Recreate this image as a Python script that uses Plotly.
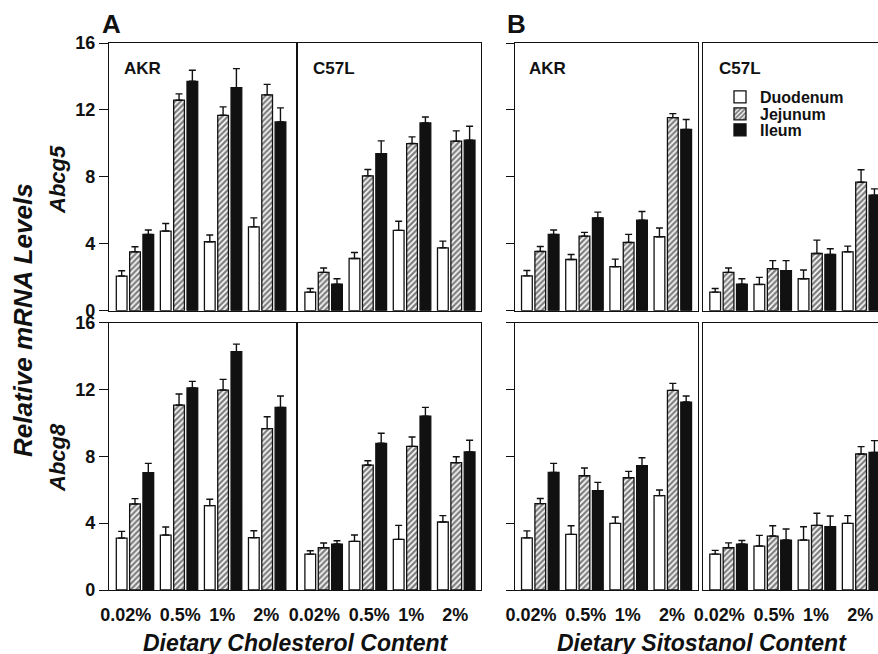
import plotly.graph_objects as go

# ---------------- data ----------------
DIETS = ["0.02%", "0.5%", "1%", "2%"]
SEGMENTS = ["Duodenum", "Jejunum", "Ileum"]
STRAINS = ["AKR", "C57L"]
GENES = ["Abcg5", "Abcg8"]

# Abcg5, cholesterol feeding
chol_akr_g5 = [2.07, 4.76, 4.12, 5.01]
chol_akr_g5_err = [0.32, 0.45, 0.40, 0.54]
chol_akr_g5_jej = [3.52, 12.58, 11.68, 12.90]
chol_akr_g5_jej_err = [0.30, 0.38, 0.50, 0.63]
chol_akr_g5_ile = [4.56, 13.71, 13.33, 11.28]
chol_akr_g5_ile_err = [0.26, 0.66, 1.14, 0.84]

chol_c57_g5 = [1.11, 3.12, 4.80, 3.76]
chol_c57_g5_err = [0.22, 0.36, 0.55, 0.40]
chol_c57_g5_jej = [2.29, 8.06, 9.99, 10.13]
chol_c57_g5_jej_err = [0.26, 0.38, 0.40, 0.62]
chol_c57_g5_ile = [1.59, 9.39, 11.22, 10.19]
chol_c57_g5_ile_err = [0.32, 0.76, 0.36, 0.83]

# Abcg5, sitostanol feeding
sito_akr_g5 = [2.08, 3.06, 2.63, 4.42]
sito_akr_g5_err = [0.32, 0.30, 0.45, 0.52]
sito_akr_g5_jej = [3.54, 4.46, 4.08, 11.54]
sito_akr_g5_jej_err = [0.30, 0.22, 0.48, 0.24]
sito_akr_g5_ile = [4.56, 5.55, 5.41, 10.83]
sito_akr_g5_ile_err = [0.26, 0.34, 0.52, 0.60]

sito_c57_g5 = [1.11, 1.57, 1.91, 3.52]
sito_c57_g5_err = [0.22, 0.42, 0.52, 0.34]
sito_c57_g5_jej = [2.29, 2.51, 3.42, 7.68]
sito_c57_g5_jej_err = [0.26, 0.48, 0.80, 0.74]
sito_c57_g5_ile = [1.59, 2.39, 3.36, 6.90]
sito_c57_g5_ile_err = [0.32, 0.60, 0.34, 0.38]

# Abcg8, cholesterol feeding
chol_akr_g8 = [3.11, 3.29, 5.05, 3.13]
chol_akr_g8_err = [0.40, 0.48, 0.38, 0.42]
chol_akr_g8_jej = [5.15, 11.07, 11.97, 9.66]
chol_akr_g8_jej_err = [0.32, 0.66, 0.64, 0.71]
chol_akr_g8_ile = [7.02, 12.09, 14.26, 10.93]
chol_akr_g8_ile_err = [0.56, 0.40, 0.46, 0.68]

chol_c57_g8 = [2.15, 2.91, 3.03, 4.07]
chol_c57_g8_err = [0.20, 0.38, 0.84, 0.38]
chol_c57_g8_jej = [2.53, 7.48, 8.60, 7.62]
chol_c57_g8_jej_err = [0.28, 0.26, 0.56, 0.36]
chol_c57_g8_ile = [2.75, 8.78, 10.41, 8.26]
chol_c57_g8_ile_err = [0.20, 0.60, 0.52, 0.70]

# Abcg8, sitostanol feeding
sito_akr_g8 = [3.12, 3.33, 3.99, 5.65]
sito_akr_g8_err = [0.42, 0.52, 0.38, 0.34]
sito_akr_g8_jej = [5.17, 6.84, 6.72, 11.95]
sito_akr_g8_jej_err = [0.31, 0.46, 0.38, 0.42]
sito_akr_g8_ile = [7.04, 5.95, 7.44, 11.25]
sito_akr_g8_ile_err = [0.54, 0.49, 0.48, 0.36]

sito_c57_g8 = [2.15, 2.63, 2.99, 3.99]
sito_c57_g8_err = [0.22, 0.64, 0.80, 0.46]
sito_c57_g8_jej = [2.53, 3.23, 3.87, 8.14]
sito_c57_g8_jej_err = [0.29, 0.62, 0.72, 0.44]
sito_c57_g8_ile = [2.75, 2.99, 3.79, 8.24]
sito_c57_g8_ile_err = [0.21, 0.66, 0.64, 0.70]

Y_TICKS = [0, 4, 8, 12, 16]

# panels in reading order: row 1 (Abcg5) then row 2 (Abcg8)
PANELS = [
    [(chol_akr_g5, chol_akr_g5_err), (chol_akr_g5_jej, chol_akr_g5_jej_err), (chol_akr_g5_ile, chol_akr_g5_ile_err)],
    [(chol_c57_g5, chol_c57_g5_err), (chol_c57_g5_jej, chol_c57_g5_jej_err), (chol_c57_g5_ile, chol_c57_g5_ile_err)],
    [(sito_akr_g5, sito_akr_g5_err), (sito_akr_g5_jej, sito_akr_g5_jej_err), (sito_akr_g5_ile, sito_akr_g5_ile_err)],
    [(sito_c57_g5, sito_c57_g5_err), (sito_c57_g5_jej, sito_c57_g5_jej_err), (sito_c57_g5_ile, sito_c57_g5_ile_err)],
    [(chol_akr_g8, chol_akr_g8_err), (chol_akr_g8_jej, chol_akr_g8_jej_err), (chol_akr_g8_ile, chol_akr_g8_ile_err)],
    [(chol_c57_g8, chol_c57_g8_err), (chol_c57_g8_jej, chol_c57_g8_jej_err), (chol_c57_g8_ile, chol_c57_g8_ile_err)],
    [(sito_akr_g8, sito_akr_g8_err), (sito_akr_g8_jej, sito_akr_g8_jej_err), (sito_akr_g8_ile, sito_akr_g8_ile_err)],
    [(sito_c57_g8, sito_c57_g8_err), (sito_c57_g8_jej, sito_c57_g8_jej_err), (sito_c57_g8_ile, sito_c57_g8_ile_err)],
]

# ---------------- styling / layout ----------------
FONT = "Liberation Sans, Arial, sans-serif"
INK = "#111111"
W, H = 878, 654
ML, MR, MT, MB = 109, 0, 43, 64
PW, PH = W - ML - MR, H - MT - MB

def px_x(p):
    return (p - ML) / PW

def px_y(p):
    return (H - MB - p) / PH

COL_PX = [(109, 296), (298, 481), (515, 698), (703, 878)]
ROW_PX = [(43, 310.7), (322.7, 590)]
X_RANGES = [(-0.59, 3.655), (-0.58, 3.56), (-0.572, 3.57), (-0.578, 3.383)]
TICK_LABEL_POS = [-0.21, 1.03, 1.98, 2.98]
GROUP_POS = list(range(len(DIETS)))
LEGEND_ROWS_PX = [97, 114, 130]
LEGEND_KEYS = ["legend", "legend2", "legend3"]

fig = go.Figure()

seg_style = [
    dict(color="white", pattern=None),
    dict(color="white", pattern=dict(shape="/", fgcolor="#000000", bgcolor="white", size=4, solidity=0.6)),
    dict(color=INK, pattern=None),
]

for p, series in enumerate(PANELS):
    n = p + 1
    xa = "x" if n == 1 else f"x{n}"
    ya = "y" if n == 1 else f"y{n}"
    for s, (vals, errs) in enumerate(series):
        st = seg_style[s]
        marker = dict(color=st["color"], line=dict(color=INK, width=1.3))
        if st["pattern"] is not None:
            marker["pattern"] = st["pattern"]
        fig.add_trace(go.Bar(
            x=GROUP_POS, y=vals, name=SEGMENTS[s],
            xaxis=xa, yaxis=ya, marker=marker,
            showlegend=(p == 0), legend=LEGEND_KEYS[s],
            error_y=dict(type="data", symmetric=False, array=errs,
                         arrayminus=[0] * len(errs), color=INK,
                         thickness=1.4, width=3.5),
        ))

layout_axes = {}
for p in range(8):
    n = p + 1
    row, col = divmod(p, 4)
    c0, c1 = COL_PX[col]
    r0, r1 = ROW_PX[row]
    xkey = "xaxis" if n == 1 else f"xaxis{n}"
    ykey = "yaxis" if n == 1 else f"yaxis{n}"
    last = col == 3
    xa = dict(
        domain=[px_x(c0), min(px_x(c1), 1.0)],
        range=list(X_RANGES[col]),
        anchor="y" if n == 1 else f"y{n}",
        showline=True, linecolor=INK, linewidth=1.4, mirror=True,
        showgrid=False, zeroline=False, fixedrange=True,
    )
    if row == 1:
        xa.update(tickmode="array", tickvals=TICK_LABEL_POS, ticktext=DIETS,
                  ticks="outside", ticklen=8, tickcolor="rgba(0,0,0,0)",
                  tickfont=dict(family=FONT, size=18, color=INK, weight="bold"))
    else:
        xa.update(showticklabels=False, ticks="")
    ya = dict(
        domain=[px_y(r1), px_y(r0)],
        range=[0, 16],
        anchor="x" if n == 1 else f"x{n}",
        showline=True, linecolor=INK, linewidth=1.4, mirror=not last,
        showgrid=False, zeroline=False, fixedrange=True,
        tickmode="array", tickvals=Y_TICKS,
    )
    if col == 0:
        ya.update(ticks="outside", ticklen=9, tickwidth=1.4, tickcolor=INK,
                  tickfont=dict(family=FONT, size=18, color=INK, weight="bold"))
    elif col == 2:
        ya.update(ticks="outside", ticklen=8, tickwidth=1.4, tickcolor=INK,
                  showticklabels=False)
    else:
        ya.update(ticks="", showticklabels=False)
    layout_axes[xkey] = xa
    layout_axes[ykey] = ya

annotations = []
def add_text(text, x, y, size, italic=False, angle=0, xanchor="center", yanchor="middle"):
    annotations.append(dict(
        text=text, x=x, y=y, xref="paper", yref="paper", showarrow=False,
        xanchor=xanchor, yanchor=yanchor, textangle=angle,
        font=dict(family=FONT, size=size, color=INK, weight="bold",
                  style="italic" if italic else "normal"),
    ))

# panel letters
add_text("A", px_x(100), px_y(24), 26, xanchor="left")
add_text("B", px_x(505), px_y(24), 26, xanchor="left")
# strain labels (top row)
for col, xp in enumerate([122, 311, 527, 717]):
    add_text(STRAINS[col % 2], px_x(xp), px_y(68), 17, xanchor="left")
# y titles
add_text("Relative mRNA Levels", px_x(23), px_y(320), 26, italic=True, angle=-90)
add_text(GENES[0], px_x(57), px_y(180), 22, italic=True, angle=-90)
add_text(GENES[1], px_x(57), px_y(458), 22, italic=True, angle=-90)
# x titles
add_text("Dietary Cholesterol Content", px_x(295), px_y(643), 23, italic=True)
add_text("Dietary Sitostanol Content", px_x(702), px_y(643), 23, italic=True)

legend_cfg = {}
for key, ry in zip(LEGEND_KEYS, LEGEND_ROWS_PX):
    legend_cfg[key] = dict(
        x=px_x(720), y=px_y(ry), xanchor="left", yanchor="middle",
        bgcolor="rgba(0,0,0,0)", borderwidth=0,
        font=dict(family=FONT, size=16, color=INK, weight="bold"),
        itemwidth=30, visible=True,
    )

fig.update_layout(
    width=W, height=H,
    margin=dict(l=ML, r=MR, t=MT, b=MB, autoexpand=False),
    paper_bgcolor="white", plot_bgcolor="white",
    barmode="group", bargap=0.093, bargroupgap=0.195,
    showlegend=True,
    annotations=annotations,
    **legend_cfg,
    **layout_axes,
)

fig.write_html("out.html",
               config={"displayModeBar": False},
               post_script="document.body.style.margin='0';document.body.style.overflow='hidden';")
